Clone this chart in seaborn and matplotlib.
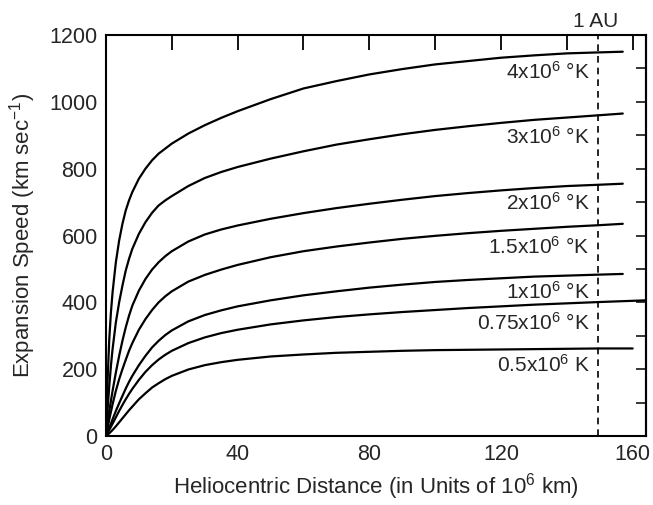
import numpy as np
import pandas as pd
from matplotlib import pyplot as plt
import seaborn as sns

# %%
# curves: distance (10^6 km) and speed (km/s) per coronal temperature
x_4 = [0, 0.5, 1, 1.5, 2, 3, 4, 5, 6, 7, 8, 10, 12, 14, 16, 18, 20, 25, 30, 35, 40,
       50, 60, 70, 80, 90, 100, 110, 120, 130, 140, 150, 157]
v_4 = [0, 170, 290, 370, 430, 520, 585, 635, 675, 705, 730, 770, 800, 825, 845, 860, 875,
       905, 930, 952, 972, 1008, 1040, 1062, 1082, 1098, 1112, 1122, 1132, 1139, 1145, 1148, 1150]
x_3 = [0, 0.5, 1, 1.5, 2, 3, 4, 5, 6, 7, 8, 10, 12, 14, 16, 18, 20, 25, 30, 35, 40,
       50, 60, 70, 80, 90, 100, 110, 120, 130, 140, 150, 157]
v_3 = [0, 80, 150, 210, 260, 340, 400, 450, 495, 530, 560, 605, 640, 668, 690, 705, 718,
       748, 772, 790, 805, 830, 852, 872, 888, 903, 916, 927, 937, 946, 953, 960, 965]
x_2 = [0, 0.5, 1, 1.5, 2, 3, 4, 5, 6, 7, 8, 10, 12, 14, 16, 18, 20, 25, 30, 35, 40,
       50, 60, 70, 80, 90, 100, 110, 120, 130, 140, 150, 157]
v_2 = [0, 40, 75, 105, 135, 190, 240, 285, 325, 360, 390, 435, 470, 498, 520, 538, 553,
       582, 603, 618, 630, 650, 667, 682, 695, 707, 718, 727, 735, 742, 748, 752, 755]
x_15 = [0, 0.5, 1, 1.5, 2, 3, 4, 5, 6, 7, 8, 10, 12, 14, 16, 18, 20, 25, 30, 35, 40,
        50, 60, 70, 80, 90, 100, 110, 120, 130, 140, 150, 157]
v_15 = [0, 25, 50, 72, 95, 135, 170, 200, 228, 255, 278, 318, 350, 377, 400, 418, 433,
        462, 482, 498, 512, 535, 553, 567, 579, 590, 599, 607, 614, 620, 626, 631, 635]
x_1 = [0, 0.5, 1, 1.5, 2, 3, 4, 5, 6, 7, 8, 10, 12, 14, 16, 18, 20, 25, 30, 35, 40,
       50, 60, 70, 80, 90, 100, 110, 120, 130, 140, 150, 157]
v_1 = [0, 12, 25, 37, 50, 75, 98, 120, 142, 162, 180, 212, 240, 265, 285, 302, 316,
       343, 362, 376, 388, 406, 421, 433, 444, 453, 461, 467, 472, 477, 480, 483, 485]
x_075 = [0, 1, 2, 3, 4, 5, 6, 7, 8, 10, 12, 14, 16, 18, 20, 25, 30, 35, 40,
         50, 60, 70, 80, 90, 100, 110, 120, 130, 140, 150, 164]
v_075 = [0, 18, 37, 56, 75, 93, 110, 126, 141, 168, 192, 212, 229, 243, 255, 278, 295, 308, 318,
         334, 346, 356, 364, 371, 377, 383, 388, 393, 397, 401, 406]
x_05 = [0, 1, 2, 3, 4, 5, 6, 7, 8, 10, 12, 14, 16, 18, 20, 25, 30, 35, 40,
        50, 60, 70, 80, 90, 100, 110, 120, 130, 140, 150, 160]
v_05 = [0, 8, 18, 29, 41, 53, 65, 77, 88, 110, 128, 145, 158, 170, 180, 199, 212, 221, 228,
        238, 244, 249, 252, 255, 257, 258, 259, 260, 261, 262, 262]

labels = ['4x10$^6$ °K', '3x10$^6$ °K', '2x10$^6$ °K', '1.5x10$^6$ °K',
          '1x10$^6$ °K', '0.75x10$^6$ °K', '0.5x10$^6$ K']
label_y = [1090, 895, 697, 566, 431, 338, 212]
au = 149.6

# %%
sns.set_theme(style='white')
plt.rcParams['font.family'] = ['Liberation Sans', 'DejaVu Sans']
plt.rcParams['mathtext.fontset'] = 'custom'
plt.rcParams['mathtext.rm'] = 'Liberation Sans'
plt.rcParams['mathtext.it'] = 'Liberation Sans:italic'
plt.rcParams['mathtext.bf'] = 'Liberation Sans:bold'

fig = plt.figure(figsize=(6.53, 5.05), dpi=100)
ax = fig.add_axes([0.1623, 0.1366, 0.8267, 0.7941])

curves = [(x_4, v_4), (x_3, v_3), (x_2, v_2), (x_15, v_15),
          (x_1, v_1), (x_075, v_075), (x_05, v_05)]
for xs, vs in curves:
    sns.lineplot(x=xs, y=vs, color='black', linewidth=1.6, ax=ax, sort=False)

# 1 AU marker
ax.axvline(au, color='black', linestyle=(0, (4, 3)), linewidth=1.2)
ax.text(au - 0.8, 1212, '1 AU', ha='center', va='bottom', fontsize=15)

for lab, ly in zip(labels, label_y):
    ax.text(147, ly, lab, ha='right', va='center', fontsize=15)

ax.set_xlim(0, 164)
ax.set_ylim(0, 1200)
ax.set_xticks([0, 40, 80, 120, 160])
ax.set_xticks(np.arange(0, 161, 20), minor=True)
ax.set_yticks(np.arange(0, 1201, 200))
ax.set_yticks(np.arange(0, 1201, 100), minor=True)
ax.tick_params(axis='both', which='both', direction='in', top=True, right=False,
               labelsize=15.5, width=1.3, color='black', pad=6)
ax.tick_params(axis='x', which='both', length=11)
ax.tick_params(axis='y', which='major', length=11)
ax.tick_params(axis='y', which='minor', length=8)

# right-hand ticks are shorter and every 100
ax_r = ax.secondary_yaxis('right')
ax_r.set_yticks(np.arange(0, 1201, 100))
ax_r.tick_params(direction='in', length=7, width=1.3, labelright=False)

for s in ax.spines.values():
    s.set_linewidth(1.5)
    s.set_color('black')
for s in ax_r.spines.values():
    s.set_linewidth(1.5)
    s.set_color('black')

ax.set_xlabel('Heliocentric Distance (in Units of 10$^6$ km)', fontsize=16, labelpad=4)
ax.set_ylabel('Expansion Speed (km sec$^{-1}$)', fontsize=16, labelpad=8)

fig.savefig('out.png', dpi=100)
